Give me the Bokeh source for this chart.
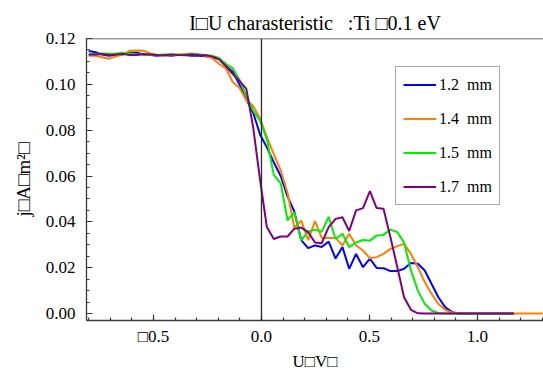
from bokeh.plotting import figure
from bokeh.models import (Range1d, SingleIntervalTicker, PrintfTickFormatter, Span,
                          Legend, LegendItem)
from bokeh.embed import file_html
from bokeh.resources import INLINE

# ---------------- data ----------------
voltage = [-0.800, -0.768, -0.737, -0.705, -0.673, -0.641, -0.610, -0.578, -0.546, -0.514,
           -0.483, -0.451, -0.419, -0.387, -0.356, -0.324, -0.292, -0.260, -0.229, -0.197,
           -0.165, -0.133, -0.102, -0.070, -0.038, -0.006, 0.025, 0.057, 0.089, 0.121,
           0.152, 0.184, 0.216, 0.248, 0.279, 0.311, 0.343, 0.375, 0.406, 0.438,
           0.470, 0.502, 0.533, 0.565, 0.597, 0.629, 0.660, 0.692, 0.724, 0.756,
           0.787, 0.819, 0.851, 0.883, 0.914, 0.946, 0.978, 1.010, 1.041, 1.073,
           1.105, 1.137, 1.168, 1.200, 1.232, 1.263, 1.295, 1.327]

j_12mm = [0.1145, 0.1140, 0.1130, 0.1125, 0.1130, 0.1135, 0.1138, 0.1138, 0.1130, 0.1128,
          0.1125, 0.1128, 0.1125, 0.1128, 0.1128, 0.1125, 0.1125, 0.1122, 0.1118, 0.1110,
          0.1080, 0.1055, 0.1000, 0.0935, 0.0875, 0.0780, 0.0725, 0.0660, 0.0600, 0.0510,
          0.0445, 0.0320, 0.0285, 0.0297, 0.0290, 0.0314, 0.0240, 0.0290, 0.0195, 0.0260,
          0.0202, 0.0239, 0.0199, 0.0198, 0.0185, 0.0185, 0.0195, 0.0220, 0.0217, 0.0188,
          0.0130, 0.0071, 0.0027, 0.0006, 0.0, 0.0, 0.0, 0.0, 0.0, 0.0,
          0.0, 0.0, 0.0]

j_14mm = [0.1125, 0.1125, 0.1118, 0.1112, 0.1122, 0.1130, 0.1147, 0.1148, 0.1147, 0.1135,
          0.1128, 0.1125, 0.1128, 0.1130, 0.1132, 0.1135, 0.1130, 0.1125, 0.1115, 0.1090,
          0.1070, 0.1010, 0.0985, 0.0930, 0.0905, 0.0850, 0.0770, 0.0695, 0.0625, 0.0525,
          0.0375, 0.0405, 0.0320, 0.0403, 0.0330, 0.0330, 0.0330, 0.0297, 0.0348, 0.0297,
          0.0275, 0.0241, 0.0246, 0.0260, 0.0282, 0.0294, 0.0304, 0.0260, 0.0202, 0.0137,
          0.0086, 0.0042, 0.0016, 0.0004, 0.0, 0.0, 0.0, 0.0, 0.0, 0.0,
          0.0, 0.0, 0.0, 0.0, 0.0, 0.0, 0.0, 0.0]

j_15mm = [0.1130, 0.1132, 0.1135, 0.1133, 0.1135, 0.1138, 0.1135, 0.1130, 0.1130, 0.1128,
          0.1128, 0.1130, 0.1130, 0.1128, 0.1130, 0.1132, 0.1130, 0.1128, 0.1125, 0.1115,
          0.1090, 0.1070, 0.1020, 0.0950, 0.0885, 0.0840, 0.0760, 0.0605, 0.0568, 0.0406,
          0.0442, 0.0318, 0.0358, 0.0366, 0.0357, 0.0422, 0.0325, 0.0348, 0.0290, 0.0310,
          0.0321, 0.0318, 0.0340, 0.0343, 0.0366, 0.0355, 0.0310, 0.0188, 0.0100, 0.0042,
          0.0013, 0.0002, 0.0, 0.0, 0.0, 0.0, 0.0, 0.0, 0.0, 0.0,
          0.0, 0.0, 0.0]

j_17mm = [0.1130, 0.1130, 0.1132, 0.1128, 0.1130, 0.1132, 0.1128, 0.1128, 0.1132, 0.1130,
          0.1128, 0.1127, 0.1130, 0.1128, 0.1127, 0.1130, 0.1128, 0.1127, 0.1122, 0.1110,
          0.1080, 0.1045, 0.1015, 0.0980, 0.0810, 0.0580, 0.0377, 0.0325, 0.0336, 0.0336,
          0.0370, 0.0375, 0.0355, 0.0310, 0.0307, 0.0377, 0.0413, 0.0420, 0.0360, 0.0450,
          0.0460, 0.0534, 0.0460, 0.0457, 0.0333, 0.0202, 0.0071, 0.0016, 0.0001, 0.0,
          0.0, 0.0, 0.0, 0.0, 0.0, 0.0, 0.0, 0.0, 0.0, 0.0,
          0.0, 0.0, 0.0]

series_labels = ["1.2\u00a0\u00a0mm", "1.4\u00a0\u00a0mm", "1.5\u00a0\u00a0mm", "1.7\u00a0\u00a0mm"]
series_values = [j_12mm, j_14mm, j_15mm, j_17mm]
series_colors = ["#0000ff", "#ff8000", "#00ee00", "#800080"]

title_text = "I\u25a1U charasteristic\u00a0\u00a0\u00a0:Ti \u25a10.1 eV"
x_label = "U\u25a1V\u25a1"
y_label = "j\u25a1A\u25a1m\u00b2\u25a1"

FONT = "Liberation Serif"

# ---------------- figure ----------------
p = figure(width=543, height=376, output_backend="svg", toolbar_location=None,
           x_range=Range1d(-0.81, 1.3056), y_range=Range1d(-0.00305, 0.12),
           min_border_left=86, min_border_right=0, min_border_top=38, min_border_bottom=56,
           background_fill_color="white", border_fill_color="white")
p.outline_line_color = None
p.xgrid.visible = False
p.ygrid.visible = False

p.title.text = title_text
p.title.text_font = FONT
p.title.text_font_size = "20px"
p.title.text_font_style = "normal"
p.title.align = "center"
p.title.text_color = "black"
p.title.standoff = 10

AX_COLOR = "#3a3a3a"
for ax in (p.xaxis[0], p.yaxis[0]):
    ax.axis_line_color = AX_COLOR
    ax.axis_line_width = 1.3
    ax.major_tick_line_color = AX_COLOR
    ax.minor_tick_line_color = AX_COLOR
    ax.major_tick_line_width = 1.2
    ax.minor_tick_line_width = 1.2
    ax.major_tick_in = 6
    ax.major_tick_out = 0
    ax.minor_tick_in = 3
    ax.minor_tick_out = 0
    ax.major_label_text_font = FONT
    ax.major_label_text_font_size = "17px"
    ax.major_label_text_color = "black"
    ax.axis_label_text_font = FONT
    ax.axis_label_text_font_style = "normal"
    ax.axis_label_text_color = "black"

p.xaxis[0].ticker = SingleIntervalTicker(interval=0.5, num_minor_ticks=5)
p.xaxis[0].formatter = PrintfTickFormatter(format="%.1f")
p.xaxis[0].major_label_overrides = {-0.5: "\u25a10.5"}
p.xaxis[0].major_label_standoff = 6
p.xaxis[0].axis_label = x_label
p.xaxis[0].axis_label_text_font_size = "17px"
p.xaxis[0].axis_label_standoff = 3

p.yaxis[0].ticker = SingleIntervalTicker(interval=0.02, num_minor_ticks=4)
p.yaxis[0].formatter = PrintfTickFormatter(format="%.2f")
p.yaxis[0].major_label_standoff = 11
p.yaxis[0].axis_label = y_label
p.yaxis[0].axis_label_text_font_size = "19px"
p.yaxis[0].axis_label_standoff = 9

# top frame line and x=0 line
p.add_layout(Span(location=0.12, dimension="width", line_color=AX_COLOR, line_width=1.5))
p.add_layout(Span(location=0.0, dimension="height", line_color="#2a2a2a", line_width=1.3))

items = []
for lab, vals, col in zip(series_labels, series_values, series_colors):
    r = p.line(voltage[:len(vals)], vals, line_color=col, line_width=2)
    items.append(LegendItem(label=lab, renderers=[r]))

legend = Legend(items=items, location=(309, 115), orientation="vertical",
                label_text_font=FONT, label_text_font_size="16px", label_text_color="black",
                glyph_width=33, glyph_height=21, label_height=21, label_standoff=3,
                spacing=13, padding=7, margin=0,
                border_line_color="#555555", border_line_width=1.5,
                background_fill_color="white", background_fill_alpha=1.0)
p.add_layout(legend, "center")

open("out.html", "w").write(file_html(p, INLINE))
